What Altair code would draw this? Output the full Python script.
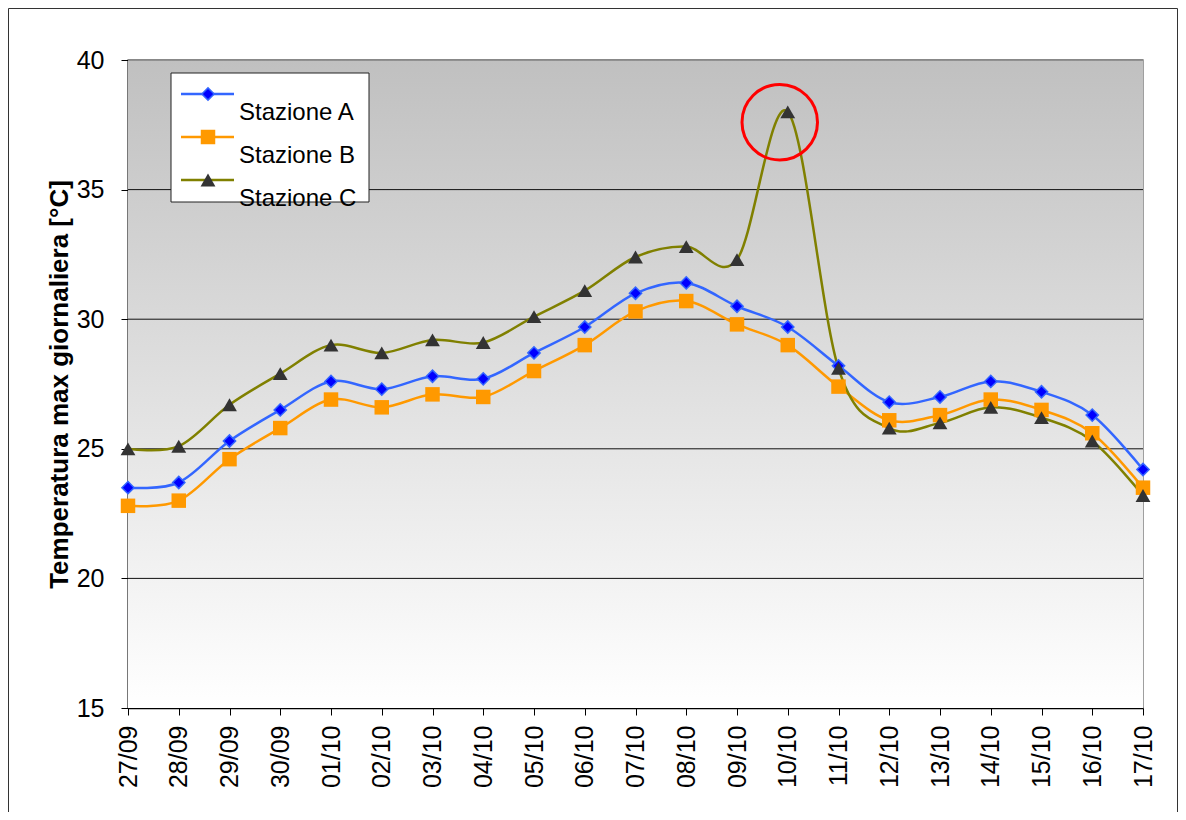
import altair as alt
import pandas as pd

# ---------------- data ----------------
dates = ["27/09", "28/09", "29/09", "30/09", "01/10", "02/10", "03/10", "04/10",
         "05/10", "06/10", "07/10", "08/10", "09/10", "10/10", "11/10", "12/10",
         "13/10", "14/10", "15/10", "16/10", "17/10"]
stazione_a = [23.5, 23.7, 25.3, 26.5, 27.6, 27.3, 27.8, 27.7, 28.7, 29.7, 31.0,
              31.4, 30.5, 29.7, 28.2, 26.8, 27.0, 27.6, 27.2, 26.3, 24.2]
stazione_b = [22.8, 23.0, 24.6, 25.8, 26.9, 26.6, 27.1, 27.0, 28.0, 29.0, 30.3,
              30.7, 29.8, 29.0, 27.4, 26.1, 26.3, 26.9, 26.5, 25.6, 23.5]
stazione_c = [25.0, 25.1, 26.7, 27.9, 29.0, 28.7, 29.2, 29.1, 30.1, 31.1, 32.4,
              32.8, 32.3, 38.0, 28.1, 25.8, 26.0, 26.6, 26.2, 25.3, 23.2]
series_names = ["Stazione A", "Stazione B", "Stazione C"]
y_ticks = [15, 20, 25, 30, 35, 40]
grid_values = [20, 25, 30, 35]
highlight_date = ["10/10"]
highlight_value = [37.6]
y_title = "Temperatura max giornaliera [°C]"

# ---------------- styles ----------------
FONT = "Liberation Sans"
W, H = 1015, 648
styles = {
    "Stazione A": dict(line="#3366ff", shape="diamond", fill="#0000ff", stroke="#3366ff", sw=1.5, size=150),
    "Stazione B": dict(line="#ff9900", shape="square", fill="#ff9900", stroke="#ff9900", sw=0, size=210),
    "Stazione C": dict(line="#808000", shape="triangle-up", fill="#333333", stroke="#333333", sw=0, size=220),
}

rows = []
for name, vals in zip(series_names, [stazione_a, stazione_b, stazione_c]):
    for d, v in zip(dates, vals):
        rows.append({"date": d, "value": v, "series": name})
df = pd.DataFrame(rows)

y_scale = alt.Scale(domain=[15, 40], nice=False, zero=False)
x_scale = alt.Scale(type="point", padding=0)

X = alt.X("date:N", sort=dates, scale=x_scale,
          axis=alt.Axis(title=None, labelAngle=270, labelFontSize=25, labelFont=FONT,
                        labelColor="black", labelPadding=10, tickSize=7, tickColor="black",
                        domainColor="black", domainWidth=1.5, grid=False, labelOverlap=False))
Y = alt.Y("value:Q", scale=y_scale,
          axis=alt.Axis(values=y_ticks, title=y_title, titleFontSize=26, titleFont=FONT,
                        titleFontWeight="bold", titleColor="black", titleX=-69, titleY=H / 2,
                        titleAngle=270, titleAlign="center", titleBaseline="middle",
                        labelFontSize=25, labelFont=FONT, labelColor="black", labelPadding=17,
                        tickSize=7, tickColor="black", domainColor="black", domainWidth=1.5,
                        grid=False))

one = pd.DataFrame({"k": [0]})

bg_df = pd.DataFrame({"value": [y_ticks[-1]], "bottom": [y_ticks[0]]})
background = alt.Chart(bg_df).mark_rect(
    fill=alt.Gradient(gradient="linear",
                      stops=[alt.GradientStop(color="#c0c0c0", offset=0),
                             alt.GradientStop(color="#ffffff", offset=1)],
                      x1=0, x2=0, y1=0, y2=1)
).encode(x=alt.value(0), x2=alt.value(W), y=Y, y2="bottom:Q")

grid = alt.Chart(pd.DataFrame({"value": grid_values})).mark_rule(color="#111111", strokeWidth=1).encode(y=Y)

top_border = alt.Chart(pd.DataFrame({"value": [y_ticks[-1]]})).mark_rule(color="#808080", strokeWidth=1.5).encode(y=Y)

lines = []
points = []
for name in series_names:
    s = styles[name]
    lines.append(
        alt.Chart(df).transform_filter(alt.datum.series == name)
        .mark_line(interpolate="cardinal", color=s["line"], strokeWidth=2.5)
        .encode(x=X, y=Y)
    )
    points.append(
        alt.Chart(df).transform_filter(alt.datum.series == name)
        .mark_point(shape=s["shape"], filled=True, fill=s["fill"], stroke=s["stroke"],
                    strokeWidth=s["sw"], size=s["size"], opacity=1)
        .encode(x=X, y=Y)
    )

circle = alt.Chart(pd.DataFrame({"date": highlight_date, "value": highlight_value})).mark_point(
    shape="circle", filled=False, stroke="#ff0000", strokeWidth=3, size=5700, xOffset=-8, opacity=1
).encode(x=X, y=Y)

# ---------------- legend (drawn inside plot) ----------------
LX0, LX1, LY0, LY1 = 43, 241, 13, 142
legend_layers = [
    alt.Chart(one).mark_rect(fill="white", stroke="#222222", strokeWidth=1).encode(
        x=alt.value(LX0), x2=alt.value(LX1), y=alt.value(LY0), y2=alt.value(LY1))
]
for i, name in enumerate(series_names):
    s = styles[name]
    ly = LY0 + 21 + i * 43
    lab = pd.DataFrame({"label": [name]})
    legend_layers.append(alt.Chart(lab).mark_rule(color=s["line"], strokeWidth=2.5).encode(
        x=alt.value(LX0 + 10), x2=alt.value(LX0 + 63), y=alt.value(ly)))
    legend_layers.append(alt.Chart(lab).mark_point(
        shape=s["shape"], filled=True, fill=s["fill"], stroke=s["stroke"], strokeWidth=s["sw"],
        size=s["size"], opacity=1).encode(x=alt.value(LX0 + 37), y=alt.value(ly)))
    legend_layers.append(alt.Chart(lab).mark_text(
        align="left", baseline="alphabetic", fontSize=24, font=FONT, color="black").encode(
        x=alt.value(LX0 + 68), y=alt.value(ly + 26), text="label:N"))

frame = alt.Chart(one).mark_rect(fillOpacity=0, stroke="#333333", strokeWidth=1).encode(
    x=alt.value(-119.5), x2=alt.value(W + 34.5), y=alt.value(-51.5), y2=alt.value(H + 120))

chart = alt.layer(
    background, grid, top_border, *lines, *points, circle, *legend_layers, frame
).properties(
    width=W, height=H,
    autosize=alt.AutoSizeParams(type="none"),
    padding={"left": 120, "top": 52, "right": 35, "bottom": 104},
    background="white",
).configure_view(stroke="#808080", strokeWidth=1.5)

chart.save("out.html", embed_options={"renderer": "svg", "actions": False})
